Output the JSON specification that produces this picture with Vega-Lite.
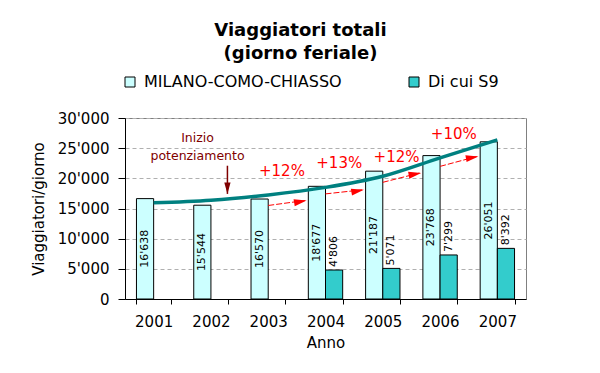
{
  "$schema": "https://vega.github.io/schema/vega-lite/v6.json",
  "width": 401,
  "height": 181,
  "autosize": {"type": "none"},
  "padding": {"left": 125, "top": 118, "right": 74, "bottom": 74},
  "background": "white",
  "title": {
    "text": ["Viaggiatori totali", "(giorno feriale)"],
    "fontSize": 18,
    "fontWeight": "bold",
    "color": "black",
    "anchor": "middle",
    "frame": "group",
    "dx": -25,
    "lineHeight": 23,
    "offset": 11
  },
  "config": {
    "font": "DejaVu Sans",
    "locale": {"number": {"decimal": ".", "thousands": "'", "grouping": [3], "currency": ["", ""]}},
    "view": {"stroke": "#808080", "strokeWidth": 1},
    "axisY": {
      "values": [0, 5000, 10000, 15000, 20000, 25000, 30000],
      "format": ",d",
      "labelFontSize": 15,
      "labelColor": "black",
      "tickColor": "black",
      "tickSize": 7,
      "domainColor": "black",
      "labelPadding": 9,
      "titleFontSize": 15,
      "titleFontWeight": "normal",
      "titleColor": "black",
      "titlePadding": 11,
      "grid": true,
      "gridColor": "#B0B0B0",
      "gridDash": [4, 3]
    },
    "axisX": {
      "labelAngle": 0,
      "labelFontSize": 15,
      "labelColor": "black",
      "tickBand": "extent",
      "tickSize": 5,
      "tickColor": "black",
      "domainColor": "black",
      "labelPadding": 10,
      "titleFontSize": 15,
      "titleFontWeight": "normal",
      "titleColor": "black",
      "titlePadding": 6,
      "grid": false
    },
    "legend": {
      "orient": "none",
      "legendX": -3,
      "legendY": -44,
      "direction": "horizontal",
      "symbolType": "square",
      "symbolSize": 100,
      "symbolStrokeColor": "black",
      "symbolStrokeWidth": 1,
      "symbolOpacity": 1,
      "labelFontSize": 16,
      "labelColor": "black",
      "labelOffset": 6,
      "labelLimit": 400,
      "columnPadding": 64
    }
  },
  "datasets": {
    "bars": [
      {"year": "2001", "series": "MILANO-COMO-CHIASSO", "value": 16638},
      {"year": "2002", "series": "MILANO-COMO-CHIASSO", "value": 15544},
      {"year": "2003", "series": "MILANO-COMO-CHIASSO", "value": 16570},
      {"year": "2004", "series": "MILANO-COMO-CHIASSO", "value": 18677},
      {"year": "2005", "series": "MILANO-COMO-CHIASSO", "value": 21187},
      {"year": "2006", "series": "MILANO-COMO-CHIASSO", "value": 23768},
      {"year": "2007", "series": "MILANO-COMO-CHIASSO", "value": 26051},
      {"year": "2004", "series": "Di cui S9", "value": 4806},
      {"year": "2005", "series": "Di cui S9", "value": 5071},
      {"year": "2006", "series": "Di cui S9", "value": 7299},
      {"year": "2007", "series": "Di cui S9", "value": 8392}
    ],
    "trend": [
      {"year": "2001", "value": 15940},
      {"year": "2002", "value": 16370},
      {"year": "2003", "value": 17250},
      {"year": "2004", "value": 18500},
      {"year": "2005", "value": 20350},
      {"year": "2006", "value": 23400},
      {"year": "2007", "value": 26370}
    ],
    "growth": [
      {"from": "2003", "to": "2004", "start": 15500, "end": 16320, "label": "+12%", "labelY": 21150},
      {"from": "2004", "to": "2005", "start": 17420, "end": 18090, "label": "+13%", "labelY": 22470},
      {"from": "2005", "to": "2006", "start": 19340, "end": 20880, "label": "+12%", "labelY": 23570},
      {"from": "2006", "to": "2007", "start": 21980, "end": 23620, "label": "+10%", "labelY": 27310}
    ],
    "note": [
      {"year": "2002", "text": "Inizio", "value": 26090},
      {"year": "2002", "text": "potenziamento", "value": 23030}
    ],
    "noteArrow": [
      {"year": "2002", "start": 22090, "end": 17420}
    ]
  },
  "resolve": {"scale": {"y": "independent"}},
  "layer": [
    {
      "layer": [
        {
          "data": {"name": "bars"},
          "mark": {"type": "bar", "stroke": "black", "strokeWidth": 1},
          "encoding": {
            "x": {"field": "year", "type": "nominal", "title": "Anno", "scale": {"type": "band", "paddingInner": 0.4, "paddingOuter": 0.2}},
            "xOffset": {"field": "series", "type": "nominal", "scale": {"domain": ["MILANO-COMO-CHIASSO", "Di cui S9"], "paddingInner": 0, "paddingOuter": 0}},
            "y": {"field": "value", "type": "quantitative", "title": "Viaggiatori/giorno", "scale": {"domain": [0, 30000], "nice": false}},
            "color": {"field": "series", "type": "nominal", "title": null, "scale": {"domain": ["MILANO-COMO-CHIASSO", "Di cui S9"], "range": ["#CCFFFF", "#33CCCC"]}}
          }
        },
        {
          "data": {"name": "bars"},
          "transform": [{"filter": "datum.series === 'Di cui S9'"}],
          "mark": {"type": "text", "angle": 270, "align": "left", "baseline": "middle", "fontSize": 11, "dx": 3, "color": "black"},
          "encoding": {
            "x": {"field": "year", "type": "nominal", "title": "Anno"},
            "xOffset": {"field": "series", "type": "nominal"},
            "y": {"field": "value", "type": "quantitative", "title": "Viaggiatori/giorno"},
            "text": {"field": "value", "type": "quantitative", "format": ",d"}
          }
        },
        {
          "data": {"name": "growth"},
          "mark": {"type": "rule", "color": "#FF0000", "strokeWidth": 1, "strokeDash": [6, 2]},
          "encoding": {
            "x": {"field": "from", "type": "nominal", "bandPosition": 0.5, "title": "Anno"},
            "x2": {"field": "to", "bandPosition": -0.1},
            "y": {"field": "start", "type": "quantitative", "title": "Viaggiatori/giorno"},
            "y2": {"field": "end"}
          }
        },
        {
          "data": {"name": "growth"},
          "mark": {"type": "point", "shape": "M0,0L-2,-0.55L-2,0.55Z", "filled": true, "color": "#FF0000", "opacity": 1, "size": 160, "angle": -10},
          "encoding": {
            "x": {"field": "to", "type": "nominal", "bandPosition": -0.05, "title": "Anno"},
            "y": {"field": "end", "type": "quantitative", "title": "Viaggiatori/giorno"}
          }
        },
        {
          "data": {"name": "growth"},
          "mark": {"type": "text", "color": "#FF0000", "fontSize": 15, "align": "center", "baseline": "middle"},
          "encoding": {
            "x": {"field": "from", "type": "nominal", "bandPosition": 0.9, "title": "Anno"},
            "y": {"field": "labelY", "type": "quantitative", "title": "Viaggiatori/giorno"},
            "text": {"field": "label"}
          }
        },
        {
          "data": {"name": "trend"},
          "mark": {"type": "line", "color": "#008080", "strokeWidth": 3.5, "interpolate": "monotone"},
          "encoding": {
            "x": {"field": "year", "type": "nominal", "title": "Anno"},
            "y": {"field": "value", "type": "quantitative", "title": "Viaggiatori/giorno"}
          }
        },
        {
          "data": {"name": "note"},
          "mark": {"type": "text", "color": "#800000", "fontSize": 12.5, "align": "center", "baseline": "alphabetic"},
          "encoding": {
            "x": {"field": "year", "type": "nominal", "bandPosition": 0.11, "title": "Anno"},
            "y": {"field": "value", "type": "quantitative", "title": "Viaggiatori/giorno"},
            "text": {"field": "text"}
          }
        },
        {
          "data": {"name": "noteArrow"},
          "mark": {"type": "rule", "color": "#800000", "strokeWidth": 1.5},
          "encoding": {
            "x": {"field": "year", "type": "nominal", "bandPosition": 0.98, "title": "Anno"},
            "y": {"field": "start", "type": "quantitative", "title": "Viaggiatori/giorno"},
            "y2": {"field": "end"}
          }
        },
        {
          "data": {"name": "noteArrow"},
          "mark": {"type": "point", "shape": "M0,0L-0.55,-2L0.55,-2Z", "filled": true, "color": "#800000", "opacity": 1, "size": 130},
          "encoding": {
            "x": {"field": "year", "type": "nominal", "bandPosition": 0.98, "title": "Anno"},
            "y": {"field": "end", "type": "quantitative", "title": "Viaggiatori/giorno"}
          }
        }
      ]
    },
    {
      "data": {"name": "bars"},
      "transform": [{"filter": "datum.series === 'MILANO-COMO-CHIASSO'"}],
      "mark": {"type": "text", "angle": 270, "align": "center", "baseline": "middle", "fontSize": 11, "color": "black"},
      "encoding": {
        "x": {"field": "year", "type": "nominal", "title": "Anno"},
        "xOffset": {"field": "series", "type": "nominal"},
        "y": {"field": "value", "type": "quantitative", "axis": null, "scale": {"domain": [0, 60000], "nice": false}},
        "text": {"field": "value", "type": "quantitative", "format": ",d"}
      }
    }
  ]
}
